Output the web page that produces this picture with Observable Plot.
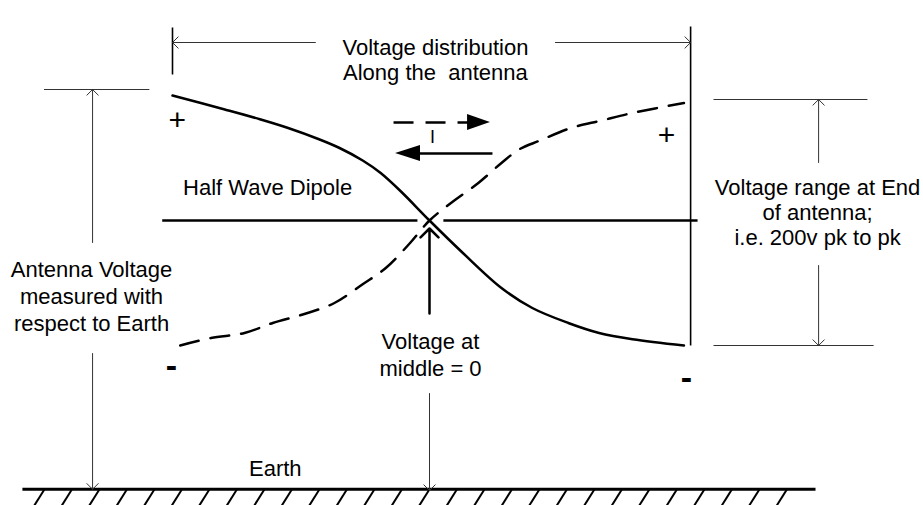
<!DOCTYPE html>
<html>
<head>
<meta charset="utf-8">
<script src="https://cdn.jsdelivr.net/npm/d3@7"></script>
<script src="https://cdn.jsdelivr.net/npm/@observablehq/plot@0.6"></script>
<style>
  html, body { margin: 0; padding: 0; background: #fff; }
</style>
</head>
<body>
<div id="chart"></div>
<script>
// ---- Data: voltage along a half-wave dipole ----
// position along the antenna: -1 = left end, 0 = middle (feed), +1 = right end
// volts: instantaneous voltage with respect to the antenna middle (±100 V ends)
const solidPos     = [-1.00, -0.80, -0.66, -0.55, -0.43, -0.35, -0.26, -0.19, -0.11, 0.00, 0.13, 0.28, 0.40, 0.54, 0.66, 0.79, 0.99];
const solidVolts   = [100, 89, 81, 74, 65, 58, 48, 38, 23, 0, -26, -54, -70, -82, -90, -95, -100];
const dashedPos    = [-0.97, -0.85, -0.72, -0.61, -0.49, -0.37, -0.26, -0.17, -0.08, 0.00, 0.09, 0.19, 0.28, 0.35, 0.43, 0.55, 0.67, 0.79, 0.99];
const dashedVolts  = [-100, -94, -90, -82, -75, -66, -51, -38, -19, 0, 15, 30, 46, 57, 64, 74, 80, 86, 94];

// Text labels
const titleLabel    = "Voltage distribution\nAlong the  antenna";
const dipoleLabel   = "Half Wave Dipole";
const earthRefLabel = "Antenna Voltage\nmeasured with\nrespect to Earth";
const middleLabel   = "Voltage at\nmiddle = 0";
const rangeLabel    = "Voltage range at End\nof antenna;\ni.e. 200v pk to pk";
const earthLabel    = "Earth";
const currentLabel  = "I";
const plusLabel     = "+";
const minusLabel    = "-";

// ---- Layout (in data units: position, volts) ----
const earthV = -215;
const font = "'Liberation Sans', Arial, Helvetica, sans-serif";

const solid  = solidPos.map((p, i) => ({pos: p, v: solidVolts[i]}));
const dashed = dashedPos.map((p, i) => ({pos: p, v: dashedVolts[i]}));

const thinSegs = [
  {x1: -1.50, y1: 104.8, x2: -1.09, y2: 104.8},
  {x1: 1.105, y1: 96.8, x2: 1.704, y2: 96.8},
  {x1: 1.105, y1: -100, x2: 1.728, y2: -100}
];
const tickSegs = [
  {x1: -1.0, y1: 154.4, x2: -1.0, y2: 116.8},
  {x1: 1.016, y1: 155.2, x2: 1.016, y2: -100}
];
const dipoleSegs = [
  {x1: -1.04, y1: 0, x2: -0.047, y2: 0},
  {x1: 0.054, y1: 0, x2: 1.043, y2: 0}
];
const groundSeg = [{x1: -1.584, y1: earthV, x2: 1.502, y2: earthV}];
const hatchStep = 0.107;
const hatches = d3.range(-14, 14).map(k => ({
  x1: k * hatchStep, y1: earthV, x2: k * hatchStep - 0.058, y2: earthV - 19
}));

const thinArrows = [
  {x1: -0.444, y1: 142.4, x2: -1.0, y2: 142.4},
  {x1: 0.49, y1: 142.4, x2: 1.016, y2: 142.4},
  {x1: -1.311, y1: -17.6, x2: -1.311, y2: 104.8},
  {x1: -1.311, y1: -106.4, x2: -1.311, y2: earthV},
  {x1: 1.514, y1: 46.4, x2: 1.514, y2: 96.8},
  {x1: 1.514, y1: -36, x2: 1.514, y2: -100},
  {x1: 0.0, y1: -138.4, x2: 0.0, y2: earthV - 1}
];
const thickArrow = [{x1: 0.0, y1: -74.4, x2: 0.0, y2: -6.4}];

const dashShaft  = [{x1: -0.140, y1: 78.4, x2: 0.150, y2: 78.4}];
const solidShaft = [{x1: 0.245, y1: 53.6, x2: -0.040, y2: 53.6}];
const heads = [
  {id: "a", x: 0.148, y1: 78.4 - 6.4, y2: 78.4 + 6.4},
  {id: "a", x: 0.237, y1: 78.4, y2: 78.4},
  {id: "b", x: -0.132, y1: 53.6, y2: 53.6},
  {id: "b", x: -0.035, y1: 53.6 - 6.4, y2: 53.6 + 6.4}
];

const textsA = [  // line height ≈ 25px
  {t: titleLabel,  x: 0.023, y: 146.4},
  {t: dipoleLabel, x: -0.630, y: 34.4},
  {t: rangeLabel,  x: 1.51,  y: 34.4},
  {t: earthLabel,  x: -0.600, y: -190.4}
];
const textsB = [  // line height ≈ 27px
  {t: earthRefLabel, x: -1.315, y: -30.4},
  {t: middleLabel,   x: 0.004,  y: -88}
];
const plusSigns  = [{t: plusLabel, x: -0.981, y: 80}, {t: plusLabel, x: 0.922, y: 68}];
const minusSigns = [{t: minusLabel, x: -1.004, y: -116.8}, {t: minusLabel, x: 1.0, y: -126.4}];
const currentText = [{t: currentLabel, x: 0.012, y: 72}];

const link = (data, o) => Plot.link(data, {x1: "x1", y1: "y1", x2: "x2", y2: "y2", ...o});
const txt = {x: "x", y: "y", text: "t", fill: "#000", fontFamily: font, textAnchor: "middle"};

const chart = Plot.plot({
  width: 923,
  height: 505,
  marginLeft: 172,
  marginRight: 237,
  marginTop: 95,
  marginBottom: 160,
  x: {domain: [-1, 1], axis: null},
  y: {domain: [-100, 100], axis: null},
  style: {fontFamily: font, background: "#fff", color: "#000", overflow: "visible"},
  marks: [
    link(thinSegs, {stroke: "#333", strokeWidth: 1}),
    link(tickSegs, {stroke: "#000", strokeWidth: 1.6}),
    link(dipoleSegs, {stroke: "#000", strokeWidth: 2.6}),
    link(groundSeg, {stroke: "#000", strokeWidth: 3}),
    link(hatches, {stroke: "#000", strokeWidth: 2}),
    Plot.line(solid, {x: "pos", y: "v", curve: "catmull-rom", stroke: "#000", strokeWidth: 2.5}),
    Plot.line(dashed, {x: "pos", y: "v", curve: "catmull-rom", stroke: "#000", strokeWidth: 2.5, strokeDasharray: "19,12"}),
    Plot.arrow(thinArrows, {x1: "x1", y1: "y1", x2: "x2", y2: "y2", stroke: "#333", strokeWidth: 1, headLength: 12, headAngle: 90}),
    Plot.arrow(thickArrow, {x1: "x1", y1: "y1", x2: "x2", y2: "y2", stroke: "#000", strokeWidth: 2.5, headLength: 7.6, headAngle: 90}),
    link(dashShaft, {stroke: "#000", strokeWidth: 2.5, strokeDasharray: "20,12"}),
    link(solidShaft, {stroke: "#000", strokeWidth: 2.5}),
    Plot.areaY(heads, {x: "x", y1: "y1", y2: "y2", z: "id", fill: "#000"}),
    Plot.text(textsA, {...txt, fontSize: 22, lineHeight: 1.14, lineAnchor: "top"}),
    Plot.text(textsB, {...txt, fontSize: 22, lineHeight: 1.21, lineAnchor: "top"}),
    Plot.text(currentText, {...txt, fontSize: 18, lineAnchor: "top"}),
    Plot.text(plusSigns, {...txt, fontSize: 30, lineAnchor: "middle"}),
    Plot.text(minusSigns, {...txt, fontSize: 34, fontWeight: "bold", lineAnchor: "middle"})
  ]
});
document.getElementById("chart").appendChild(chart);
</script>
</body>
</html>
